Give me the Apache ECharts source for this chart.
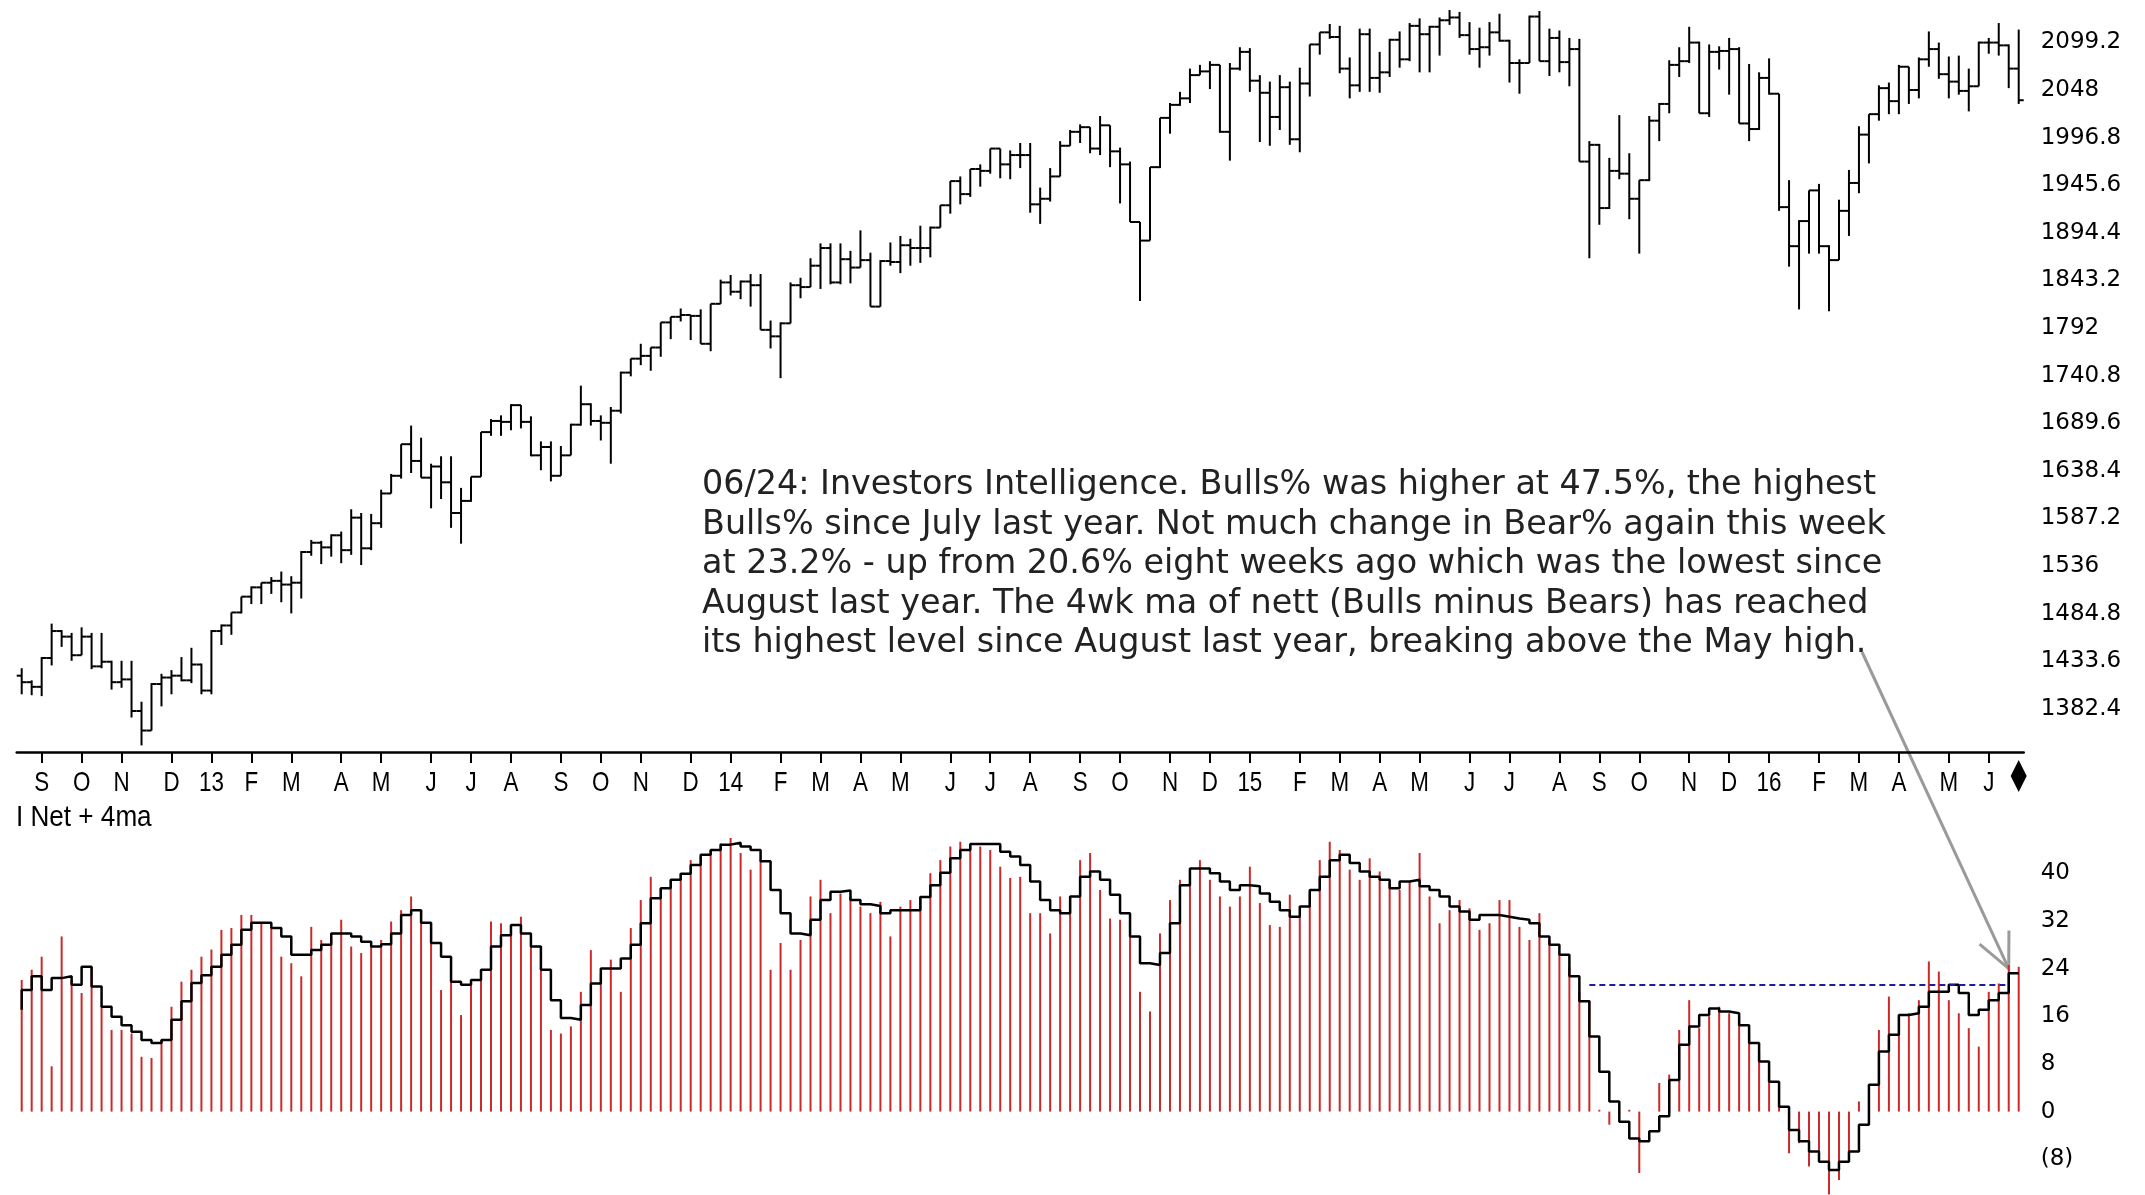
<!DOCTYPE html>
<html><head><meta charset="utf-8">
<script src="https://cdn.jsdelivr.net/npm/echarts@6/dist/echarts.min.js"></script>
<style>html,body{margin:0;padding:0;background:#fff;}#c{width:2145px;height:1195px;}</style>
</head><body><div id="c"></div>
<script>
const dates = ['2012-08-24','2012-08-31','2012-09-07','2012-09-14','2012-09-21','2012-09-28','2012-10-05','2012-10-12','2012-10-19','2012-10-26','2012-11-02','2012-11-09','2012-11-16','2012-11-23','2012-11-30','2012-12-07','2012-12-14','2012-12-21','2012-12-28',
'2013-01-04','2013-01-11','2013-01-18','2013-01-25','2013-02-01','2013-02-08','2013-02-15','2013-02-22','2013-03-01','2013-03-08','2013-03-15','2013-03-22','2013-03-29','2013-04-05','2013-04-12','2013-04-19','2013-04-26','2013-05-03','2013-05-10','2013-05-17','2013-05-24','2013-05-31','2013-06-07','2013-06-14','2013-06-21','2013-06-28','2013-07-05','2013-07-12','2013-07-19','2013-07-26','2013-08-02','2013-08-09','2013-08-16','2013-08-23','2013-08-30','2013-09-06','2013-09-13','2013-09-20','2013-09-27','2013-10-04','2013-10-11','2013-10-18','2013-10-25','2013-11-01','2013-11-08','2013-11-15','2013-11-22','2013-11-29','2013-12-06','2013-12-13','2013-12-20','2013-12-27',
'2014-01-03','2014-01-10','2014-01-17','2014-01-24','2014-01-31','2014-02-07','2014-02-14','2014-02-21','2014-02-28','2014-03-07','2014-03-14','2014-03-21','2014-03-28','2014-04-04','2014-04-11','2014-04-18','2014-04-25','2014-05-02','2014-05-09','2014-05-16','2014-05-23','2014-05-30','2014-06-06','2014-06-13','2014-06-20','2014-06-27','2014-07-04','2014-07-11','2014-07-18','2014-07-25','2014-08-01','2014-08-08','2014-08-15','2014-08-22','2014-08-29','2014-09-05','2014-09-12','2014-09-19','2014-09-26','2014-10-03','2014-10-10','2014-10-17','2014-10-24','2014-10-31','2014-11-07','2014-11-14','2014-11-21','2014-11-28','2014-12-05','2014-12-12','2014-12-19','2014-12-26',
'2015-01-02','2015-01-09','2015-01-16','2015-01-23','2015-01-30','2015-02-06','2015-02-13','2015-02-20','2015-02-27','2015-03-06','2015-03-13','2015-03-20','2015-03-27','2015-04-03','2015-04-10','2015-04-17','2015-04-24','2015-05-01','2015-05-08','2015-05-15','2015-05-22','2015-05-29','2015-06-05','2015-06-12','2015-06-19','2015-06-26','2015-07-03','2015-07-10','2015-07-17','2015-07-24','2015-07-31','2015-08-07','2015-08-14','2015-08-21','2015-08-28','2015-09-04','2015-09-11','2015-09-18','2015-09-25','2015-10-02','2015-10-09','2015-10-16','2015-10-23','2015-10-30','2015-11-06','2015-11-13','2015-11-20','2015-11-27','2015-12-04','2015-12-11','2015-12-18','2015-12-25',
'2016-01-01','2016-01-08','2016-01-15','2016-01-22','2016-01-29','2016-02-05','2016-02-12','2016-02-19','2016-02-26','2016-03-04','2016-03-11','2016-03-18','2016-03-25','2016-04-01','2016-04-08','2016-04-15','2016-04-22','2016-04-29','2016-05-06','2016-05-13','2016-05-20','2016-05-27','2016-06-03','2016-06-10','2016-06-17','2016-06-24'];

const priceOpen = [1418,1411,1406,1437,1466,1460,1440,1460,1428,1433,1411,1414,1380,1359,1409,1416,1418,1413,1430,
1402,1466,1472,1486,1503,1513,1518,1520,1516,1518,1551,1561,1556,1569,1553,1588,1555,1582,1614,1633,1667,1649,1631,1643,1626,1593,1606,1632,1680,1692,1691,1709,1691,1655,1664,1633,1655,1688,1710,1692,1690,1703,1744,1759,1762,1771,1798,1804,1806,1805,1775,1818,
1841,1831,1842,1838,1790,1783,1797,1838,1836,1859,1878,1841,1866,1857,1865,1815,1864,1863,1881,1878,1878,1900,1924,1950,1936,1963,1961,1985,1968,1978,1978,1925,1931,1955,1988,2003,2008,1985,2010,1982,1968,1906,1886,1965,2018,2032,2039,2064,2068,2075,2003,2071,
2089,2058,2045,2019,2051,1995,2055,2097,2110,2105,2071,2053,2108,2061,2067,2102,2081,2117,2108,2116,2123,2126,2107,2092,2094,2110,2101,2077,2077,2127,2079,2104,2078,2092,1971,1989,1921,1961,1958,1931,1951,2015,2033,2075,2079,2099,2023,2089,2090,2092,2012,2006,
2061,2044,1922,1880,1907,1940,1880,1865,1918,1948,2000,2022,2050,2036,2073,2048,2081,2092,2065,2057,2047,2052,2099,2099,2096,2071];

const priceHigh = [1426,1413,1438,1474,1467,1464,1470,1464,1464,1434,1434,1434,1390,1410,1420,1424,1438,1448,1431,
1467,1473,1486,1503,1514,1518,1524,1530,1525,1552,1564,1563,1570,1573,1597,1593,1592,1618,1635,1667,1687,1674,1646,1654,1654,1620,1632,1680,1694,1698,1710,1709,1697,1670,1670,1665,1689,1730,1711,1698,1707,1745,1759,1775,1771,1798,1804,1813,1806,1812,1818,1844,
1849,1843,1850,1850,1800,1798,1841,1846,1867,1883,1883,1883,1875,1897,1873,1865,1884,1891,1888,1902,1901,1924,1950,1955,1963,1968,1985,1985,1983,1991,1991,1943,1964,1993,2005,2011,2008,2020,2010,1986,1971,1906,1965,2018,2034,2046,2071,2075,2079,2075,2077,2094,
2093,2064,2057,2064,2057,2072,2097,2110,2119,2117,2083,2114,2114,2089,2103,2111,2120,2125,2117,2126,2134,2132,2121,2115,2121,2130,2102,2081,2128,2133,2114,2112,2104,2103,1993,1990,1975,2021,1980,1951,2020,2034,2080,2094,2116,2100,2097,2095,2104,2094,2076,2067,
2082,2044,1951,1908,1940,1947,1881,1930,1962,2009,2022,2053,2056,2075,2073,2083,2111,2099,2084,2085,2071,2100,2104,2120,2097,2113];

const priceLow = [1398,1397,1396,1429,1449,1434,1440,1425,1426,1403,1405,1373,1343,1359,1385,1398,1412,1410,1398,
1398,1451,1462,1485,1495,1495,1506,1497,1485,1501,1547,1538,1546,1539,1548,1537,1553,1577,1614,1630,1636,1631,1598,1608,1577,1560,1605,1632,1676,1676,1682,1684,1654,1639,1627,1633,1655,1687,1687,1671,1646,1700,1740,1752,1746,1761,1780,1799,1779,1775,1767,1818,
1827,1823,1815,1790,1770,1738,1797,1824,1836,1834,1839,1839,1840,1857,1815,1815,1859,1851,1859,1862,1868,1900,1915,1925,1933,1944,1958,1953,1952,1964,1916,1904,1928,1955,1988,1991,1980,1978,1965,1926,1906,1821,1886,1964,2001,2031,2034,2064,2049,2002,1972,2069,
2046,1992,1988,2005,1989,1981,2041,2086,2103,2066,2039,2046,2046,2045,2062,2072,2079,2067,2067,2085,2118,2104,2086,2072,2085,2100,2056,2044,2077,2079,2063,2067,2052,1971,1867,1903,1920,1952,1909,1872,1950,1993,2023,2062,2077,2023,2019,2070,2043,2012,1993,2005,
2043,1918,1858,1812,1872,1872,1810,1865,1891,1937,1969,2015,2022,2022,2033,2039,2073,2060,2039,2043,2025,2052,2087,2085,2050,2033];

const priceClose = [1411,1406,1437,1466,1460,1440,1460,1428,1433,1411,1414,1380,1359,1409,1416,1418,1413,1430,1402,
1466,1472,1486,1503,1513,1518,1520,1516,1518,1551,1561,1556,1569,1553,1588,1555,1582,1614,1633,1667,1649,1631,1643,1626,1593,1606,1632,1680,1692,1691,1709,1691,1655,1664,1633,1655,1688,1710,1692,1690,1703,1744,1759,1762,1771,1798,1804,1806,1805,1775,1818,1841,
1831,1842,1838,1790,1783,1797,1838,1836,1859,1878,1841,1866,1857,1865,1815,1864,1863,1881,1878,1878,1900,1924,1950,1936,1963,1961,1985,1968,1978,1978,1925,1931,1955,1988,2003,2008,1985,2010,1982,1968,1906,1886,1965,2018,2032,2039,2064,2068,2075,2003,2071,2089,
2058,2045,2019,2051,1995,2055,2097,2110,2105,2071,2053,2108,2061,2067,2102,2081,2117,2108,2116,2123,2126,2107,2092,2094,2110,2101,2077,2077,2127,2079,2104,2078,2092,1971,1989,1921,1961,1958,1931,1951,2015,2033,2075,2079,2099,2023,2089,2090,2092,2012,2006,2061,
2044,1922,1880,1907,1940,1880,1865,1918,1948,2000,2022,2050,2036,2073,2048,2081,2092,2065,2057,2047,2052,2099,2099,2096,2071,2037];

const netBullsBears = [22.1,23.8,26.0,7.6,29.4,22.1,19.9,24.3,17.7,13.7,
13.7,13.1,9.2,9.0,12.0,17.6,21.8,23.8,26.0,27.2,
30.5,30.8,33.0,33.0,31.6,31.0,26.0,24.9,22.7,31.0,
28.8,29.4,32.2,27.7,26.6,27.7,28.8,31.9,33.8,36.1,
33.8,31.0,20.4,22.1,16.2,22.1,23.8,31.9,31.6,31.0,
32.7,28.8,27.7,13.7,13.1,14.3,20.1,27.1,23.2,25.5,
20.1,30.8,35.5,39.4,37.5,38.9,40.0,42.2,42.8,43.9,
45.0,45.9,43.4,40.6,42.2,23.8,28.3,23.8,28.8,36.1,
38.9,33.3,36.6,36.1,34.4,33.3,35.2,29.4,34.4,35.5,
36.1,40.0,42.2,44.5,45.3,44.5,44.5,43.9,41.1,39.2,
39.4,33.3,33.3,29.9,36.1,36.1,42.2,43.4,37.2,32.4,
32.2,29.4,20.1,16.8,29.9,35.5,38.9,40.3,42.2,38.9,
36.1,34.4,36.1,41.1,35.0,31.3,31.0,36.4,32.7,36.6,
42.2,45.3,43.9,40.6,38.9,42.5,40.3,38.3,37.2,38.6,
43.4,36.1,31.6,33.8,35.5,34.1,30.5,31.6,35.5,35.5,
31.0,28.8,33.3,28.8,26.6,24.3,20.1,18.7,0.3,-2.2,
-0.3,0.3,-10.3,0.0,4.8,6.2,13.7,18.7,14.0,16.0,
17.6,16.5,16.0,13.2,9.8,7.6,0.8,-7.0,-5.3,-9.2,
-7.0,-13.9,-11.5,-6.7,1.7,0.0,13.7,19.3,16.0,16.5,
18.7,25.2,23.5,18.7,16.5,14.0,10.9,20.1,21.5,24.6,
24.3];

const net4wkMA = [17.1,20.4,22.7,20.4,22.4,22.7,21.3,24.3,21.0,17.6,
15.9,14.5,13.4,12.0,11.5,12.0,15.4,18.5,21.6,22.9,
24.3,26.3,28.0,30.5,31.7,31.7,30.8,29.4,26.3,26.3,
27.1,28.0,29.9,29.9,29.4,28.5,27.7,28.1,29.9,33.0,
33.8,31.7,28.3,26.0,21.8,21.3,22.1,23.8,27.7,29.6,
31.3,29.9,27.7,23.8,18.7,15.7,15.4,17.9,21.5,24.0,
24.0,25.7,28.0,31.6,35.8,37.5,38.9,39.9,41.4,43.1,
43.9,44.8,45.1,44.5,43.9,42.0,37.2,33.3,29.9,29.6,
32.2,35.5,36.9,37.1,35.5,34.8,34.5,33.3,33.8,33.8,
33.8,36.0,38.0,40.1,42.5,43.9,44.9,44.9,44.9,43.6,
42.8,41.4,38.6,35.5,33.8,33.3,36.1,39.4,40.3,38.9,
36.4,33.3,29.4,24.9,24.6,26.6,31.6,38.0,40.8,40.8,
40.0,38.6,37.2,38.0,37.8,36.6,35.2,33.8,32.7,34.4,
37.2,39.4,42.2,43.1,41.7,40.3,39.4,38.9,37.5,38.6,
38.9,37.8,37.2,36.1,34.4,33.6,32.2,33.0,33.0,32.7,
32.4,32.2,31.6,29.4,28.0,26.3,22.7,18.5,12.6,6.7,
1.7,-1.7,-4.5,-5.0,-3.3,-0.8,5.3,11.2,14.3,16.2,
17.3,16.8,16.5,14.5,11.5,8.4,5.0,0.8,-3.1,-5.0,
-6.7,-8.4,-9.8,-8.4,-6.7,-2.2,4.5,10.1,12.9,16.2,
16.5,17.6,20.1,20.1,21.3,19.9,16.2,17.1,18.7,19.9,
23.2];

const priceTicks = [1382.4,1433.6,1484.8,1536,1587.2,1638.4,1689.6,1740.8,1792,1843.2,1894.4,1945.6,1996.8,2048,2099.2];
const netTicks = [-8,0,8,16,24,32,40];
const mayHighLevel = 21.3;
const mayHighFrom = 157, mayHighTo = 199;
const monthLetters = ['J','F','M','A','M','J','J','A','S','O','N','D'];
const panelTitle = 'I Net + 4ma';
const noteLines = [
 '06/24: Investors Intelligence. Bulls% was higher at 47.5%, the highest',
 'Bulls% since July last year. Not much change in Bear% again this week',
 'at 23.2% - up from 20.6% eight weeks ago which was the lowest since',
 'August last year. The 4wk ma of nett (Bulls minus Bears) has reached',
 'its highest level since August last year, breaking above the May high.'
];

const isMonthStart = i => i > 0 && dates[i].slice(5,7) !== dates[i-1].slice(5,7);
const monthLabel = d => { const m = +d.slice(5,7); return m === 1 ? d.slice(2,4) : monthLetters[m-1]; };

const chart = echarts.init(document.getElementById('c'), null, {renderer:'canvas', width:2145, height:1195});
const ohlc = dates.map((d,i) => [i, priceOpen[i], priceHigh[i], priceLow[i], priceClose[i]]);
const axisFont = {fontFamily:'DejaVu Sans', fontSize:23, color:'#000'};

chart.setOption({
  animation:false,
  backgroundColor:'#ffffff',
  grid:[{left:16.7, top:0, width:2007, height:752, outerBoundsMode:'none', containLabel:false},
        {left:16.7, top:822, width:2007, height:373, outerBoundsMode:'none', containLabel:false}],
  xAxis:[
    {type:'category', gridIndex:0, data:dates, boundaryGap:true,
     axisLine:{show:true, lineStyle:{color:'#000', width:2.5}},
     axisTick:{show:true, alignWithLabel:true, interval:(i)=>isMonthStart(i), length:11, lineStyle:{color:'#000', width:2}},
     axisLabel:{show:false},
     splitLine:{show:false}},
    {type:'category', gridIndex:1, data:dates, boundaryGap:true, show:false}
  ],
  yAxis:[
    {type:'value', gridIndex:0, position:'right', min:1335.9, max:2144.8,
     axisLine:{show:false}, axisTick:{show:false}, splitLine:{show:false},
     axisLabel:Object.assign({customValues:priceTicks, formatter:v=>String(v), margin:17, padding:[10,0,0,0]}, axisFont)},
    {type:'value', gridIndex:1, position:'right', min:-14, max:48.6,
     axisLine:{show:false}, axisTick:{show:false}, splitLine:{show:false},
     axisLabel:Object.assign({customValues:netTicks, formatter:v=> v<0 ? '('+(-v)+')' : String(v), margin:17, padding:[13,0,0,0]}, axisFont)}
  ],
  series:[
    {type:'custom', name:'S&P', xAxisIndex:0, yAxisIndex:0, data:ohlc,
     encode:{x:0, y:[1,2,3,4]},
     renderItem:(params, api) => {
       const x = api.value(0);
       const o = api.coord([x, api.value(1)]);
       const h = api.coord([x, api.value(2)]);
       const l = api.coord([x, api.value(3)]);
       const c = api.coord([x, api.value(4)]);
       const w = api.size([1,0])[0]*0.5;
       const st = {stroke:'#000', lineWidth:2};
       return {type:'group', children:[
         {type:'line', shape:{x1:h[0], y1:h[1], x2:l[0], y2:l[1]}, style:st},
         {type:'line', shape:{x1:o[0]-w, y1:o[1], x2:o[0], y2:o[1]}, style:st},
         {type:'line', shape:{x1:c[0], y1:c[1], x2:c[0]+w, y2:c[1]}, style:st}
       ]};
     }},
    {type:'bar', name:'Net', xAxisIndex:1, yAxisIndex:1, data:netBullsBears, barWidth:2,
     itemStyle:{color:'#cc2a2a'}, z:2},
    {type:'line', name:'4ma', xAxisIndex:1, yAxisIndex:1, data:net4wkMA, step:'start', symbol:'none',
     lineStyle:{color:'#000', width:2.5}, z:3,
     markLine:{silent:true, symbol:['none','none'], label:{show:false},
       lineStyle:{color:'#1c1c9c', type:[6,4], width:2},
       data:[[{coord:[dates[mayHighFrom], mayHighLevel]},{coord:[dates[mayHighTo], mayHighLevel]}]]}}
  ]
});

const labelEls = [];
dates.forEach((d,i) => {
  if (!isMonthStart(i)) return;
  const px = chart.convertToPixel({xAxisIndex:0}, d);
  labelEls.push({type:'text', x:px, y:783, scaleX:0.8, silent:true,
    style:{text:monthLabel(d), font:'28px "Liberation Sans"', fill:'#000', align:'center', verticalAlign:'middle'}});
});

const tip = chart.convertToPixel({xAxisIndex:1, yAxisIndex:1}, [dates[199], 24.0]);
const start = [1862, 652];
const ang = Math.atan2(tip[1]-start[1], tip[0]-start[0]) + Math.PI;
const hl = 38, ha = 0.44;
const hA = [tip[0] + hl*Math.cos(ang-ha), tip[1] + hl*Math.sin(ang-ha)];
const hB = [tip[0] + hl*Math.cos(ang+ha), tip[1] + hl*Math.sin(ang+ha)];
const lastX = chart.convertToPixel({xAxisIndex:0}, dates[dates.length-1]);

chart.setOption({graphic:labelEls.concat([
  {type:'text', x:702, y:465.5, style:{text:noteLines.join('\n'), font:'33.4px "DejaVu Sans"', fill:'#222', lineHeight:39.6, verticalAlign:'top'}},
  {type:'line', shape:{x1:start[0], y1:start[1], x2:tip[0], y2:tip[1]}, style:{stroke:'#9a9a9a', lineWidth:3}},
  {type:'polyline', shape:{points:[hA, tip, hB]}, style:{stroke:'#9a9a9a', lineWidth:3, fill:null}},
  {type:'polygon', shape:{points:[[lastX,760],[lastX+8,776],[lastX,792],[lastX-8,776]]}, style:{fill:'#000'}},
  {type:'text', x:16, y:818, scaleX:0.9, style:{text:panelTitle, font:'29px "Liberation Sans"', fill:'#000', verticalAlign:'middle'}}
])});
</script>
</body></html>
